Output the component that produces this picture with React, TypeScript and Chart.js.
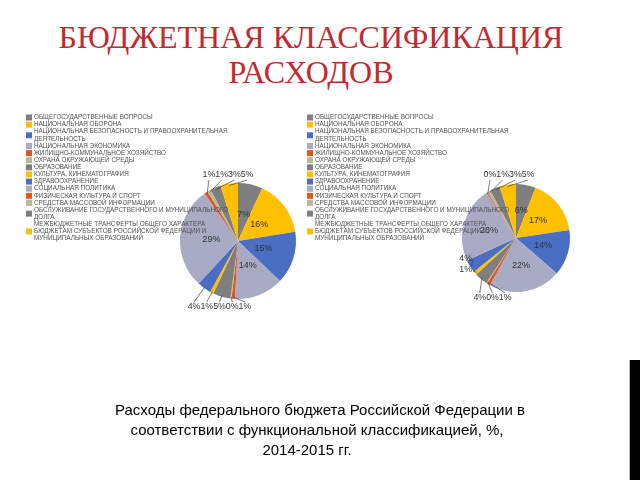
import React, { useEffect, useRef } from "react";
import { Chart, registerables } from "chart.js";

Chart.register(...registerables);

// ---- data ----
const categories: string[] = [
  "ОБЩЕГОСУДАРСТВЕННЫЕ ВОПРОСЫ",
  "НАЦИОНАЛЬНАЯ ОБОРОНА",
  "НАЦИОНАЛЬНАЯ БЕЗОПАСНОСТЬ И ПРАВООХРАНИТЕЛЬНАЯ\nДЕЯТЕЛЬНОСТЬ",
  "НАЦИОНАЛЬНАЯ ЭКОНОМИКА",
  "ЖИЛИЩНО-КОММУНАЛЬНОЕ ХОЗЯЙСТВО",
  "ОХРАНА ОКРУЖАЮЩЕЙ СРЕДЫ",
  "ОБРАЗОВАНИЕ",
  "КУЛЬТУРА, КИНЕМАТОГРАФИЯ",
  "ЗДРАВООХРАНЕНИЕ",
  "СОЦИАЛЬНАЯ ПОЛИТИКА",
  "ФИЗИЧЕСКАЯ КУЛЬТУРА И СПОРТ",
  "СРЕДСТВА МАССОВОЙ ИНФОРМАЦИИ",
  "ОБСЛУЖИВАНИЕ ГОСУДАРСТВЕННОГО И МУНИЦИПАЛЬНОГО\nДОЛГА",
  "МЕЖБЮДЖЕТНЫЕ ТРАНСФЕРТЫ ОБЩЕГО ХАРАКТЕРА\nБЮДЖЕТАМ СУБЪЕКТОВ РОССИЙСКОЙ ФЕДЕРАЦИИ И\nМУНИЦИПАЛЬНЫХ ОБРАЗОВАНИЙ",
];

const values2014: number[] = [7, 16, 15, 14, 1, 0.3, 5, 1, 4, 29, 1, 1, 3, 5];
const values2015: number[] = [6, 17, 14, 22, 1, 0.3, 4, 1, 4, 23, 0.4, 1, 3, 5];

const palette: string[] = ["#7F7F7F", "#FFC000", "#4A6EC2", "#A9AAC4", "#E2561F", "#BAB898"];
const sliceColors: string[] = categories.map((_, i) => palette[i % palette.length]);

const titleText = ["БЮДЖЕТНАЯ КЛАССИФИКАЦИЯ", "РАСХОДОВ"];
const captionLines = [
  "Расходы федерального бюджета Российской Федерации в",
  "соответствии с функциональной классификацией, %,",
  "2014-2015 гг.",
];

// ---- plugin: labels, leader lines, legend ----
const decorPlugin = {
  id: "decor",
  afterDatasetsDraw(chart: any, _args: any, opts: any) {
    const ctx: CanvasRenderingContext2D = chart.ctx;
    const meta = chart.getDatasetMeta(0);
    const data = chart.data.datasets[0].data as number[];
    const labels = chart.data.labels as string[];
    const cols = chart.data.datasets[0].backgroundColor as string[];
    const arcs = meta.data as any[];
    if (!arcs.length) return;
    const cx = arcs[0].x;
    const cy = arcs[0].y;
    const R = arcs[0].outerRadius;
    const pct = (v: number) => `${Math.round(v)}%`;
    const mid = (a: any) => (a.startAngle + a.endAngle) / 2;

    ctx.save();
    // inside labels
    ctx.font = opts.inFont;
    ctx.fillStyle = opts.textColor;
    ctx.textAlign = "center";
    ctx.textBaseline = "middle";
    arcs.forEach((arc, i) => {
      if (data[i] < opts.insideMin) return;
      const m = mid(arc);
      ctx.fillText(pct(data[i]), cx + Math.cos(m) * R * opts.inR, cy + Math.sin(m) * R * opts.inR);
    });

    // outside labels with leader lines
    ctx.font = opts.outFont;
    ctx.strokeStyle = opts.lineColor;
    ctx.lineWidth = 0.7;
    opts.groups.forEach((g: any) => {
      if (g.dir === "left") {
        g.indices.forEach((idx: number, k: number) => {
          const t = pct(data[idx]);
          const lx = cx + g.dx;
          const ly = cy + g.dy + k * g.step;
          const m = mid(arcs[idx]);
          ctx.beginPath();
          ctx.moveTo(cx + Math.cos(m) * R * 0.97, cy + Math.sin(m) * R * 0.97);
          ctx.lineTo(lx + 1, ly + 1);
          ctx.stroke();
          ctx.textAlign = "right";
          ctx.fillText(t, lx, ly);
        });
      } else {
        const texts = g.indices.map((i: number) => pct(data[i]));
        const widths = texts.map((t: string) => ctx.measureText(t).width);
        const total = widths.reduce((a: number, b: number) => a + b, 0);
        let x = cx + g.dx - total / 2;
        const y = cy + g.dy;
        texts.forEach((t: string, k: number) => {
          const idx = g.indices[k];
          const m = mid(arcs[idx]);
          const ax = x + widths[k] / 2;
          const ay = g.dir === "top" ? y + 5 : y - 5;
          ctx.beginPath();
          ctx.moveTo(cx + Math.cos(m) * R * 0.97, cy + Math.sin(m) * R * 0.97);
          ctx.lineTo(ax, ay);
          ctx.stroke();
          ctx.textAlign = "left";
          ctx.fillText(t, x, y);
          x += widths[k];
        });
      }
    });

    // legend
    const lg = opts.legend;
    ctx.font = `10px "Liberation Sans", Arial, sans-serif`;
    const refW = ctx.measureText(labels[2].split("\n")[0]).width;
    const fs = (10 * lg.refWidth) / refW;
    ctx.font = `${fs.toFixed(2)}px "Liberation Sans", Arial, sans-serif`;
    ctx.textAlign = "left";
    ctx.textBaseline = "middle";
    let line = 0;
    labels.forEach((lab, i) => {
      const parts = lab.split("\n");
      const centerY = lg.y + (line + (parts.length - 1) / 2) * lg.lineH;
      ctx.fillStyle = cols[i];
      ctx.fillRect(lg.x, centerY - lg.box / 2, lg.box, lg.box);
      ctx.fillStyle = lg.color;
      parts.forEach((p, k) => {
        ctx.fillText(p, lg.x + lg.textGap, lg.y + (line + k) * lg.lineH);
      });
      line += parts.length;
    });
    ctx.restore();
  },
};

type PieCfg = {
  values: number[];
  padding: { left: number; right: number; top: number; bottom: number };
  groups: any[];
  legendX: number;
  inR: number;
};

function PieChart({ cfg }: { cfg: PieCfg }) {
  const ref = useRef<HTMLCanvasElement | null>(null);
  useEffect(() => {
    if (!ref.current) return;
    const chart = new Chart(ref.current, {
      type: "pie",
      data: {
        labels: categories,
        datasets: [
          {
            data: cfg.values,
            backgroundColor: sliceColors,
            borderWidth: 0,
          },
        ],
      },
      options: {
        responsive: false,
        maintainAspectRatio: false,
        animation: false,
        layout: { padding: cfg.padding },
        plugins: {
          legend: { display: false },
          tooltip: { enabled: false },
          decor: {
            inFont: `9px "Liberation Sans", Arial, sans-serif`,
            outFont: `8.8px "Liberation Sans", Arial, sans-serif`,
            textColor: "#333333",
            lineColor: "#404040",
            insideMin: 6,
            inR: cfg.inR,
            groups: cfg.groups,
            legend: {
              x: cfg.legendX,
              y: 117.5,
              lineH: 7.12,
              box: 6,
              textGap: 8,
              refWidth: 194,
              color: "#505050",
            },
          },
        } as any,
      },
      plugins: [decorPlugin],
    });
    return () => chart.destroy();
  }, [cfg]);
  return (
    <canvas
      ref={ref}
      width={640}
      height={480}
      style={{ position: "absolute", left: 0, top: 0, width: 640, height: 480 }}
    />
  );
}

const leftCfg: PieCfg = {
  values: values2014,
  padding: { left: 180, right: 344, top: 183, bottom: 181 },
  groups: [
    { dir: "top", indices: [10, 11, 12, 13], dx: -10, dy: -66 },
    { dir: "bottom", indices: [8, 7, 6, 5, 4], dx: -18.5, dy: 66 },
  ],
  legendX: 26,
  inR: 0.46,
};

const rightCfg: PieCfg = {
  values: values2015,
  padding: { left: 462, right: 70, top: 184, bottom: 188 },
  groups: [
    { dir: "top", indices: [10, 11, 12, 13], dx: -7, dy: -63 },
    { dir: "bottom", indices: [6, 5, 4], dx: -23.5, dy: 60 },
    { dir: "left", indices: [8, 7], dx: -44, dy: 21, step: 11 },
  ],
  legendX: 307,
  inR: 0.52,
};

export default function App() {
  return (
    <div
      style={{
        position: "absolute",
        left: 0,
        top: 0,
        width: 640,
        height: 480,
        background: "#ffffff",
        overflow: "hidden",
      }}
    >
      <div
        style={{
          position: "absolute",
          left: 0,
          top: 20,
          width: 622,
          textAlign: "center",
          fontFamily: '"Liberation Serif", "Times New Roman", serif',
          fontSize: 32,
          lineHeight: "35px",
          color: "#C5282F",
        }}
      >
        {titleText[0]}
        <br />
        {titleText[1]}
      </div>
      <PieChart cfg={leftCfg} />
      <PieChart cfg={rightCfg} />
      <div
        style={{
          position: "absolute",
          left: 0,
          top: 400,
          width: 640,
          textAlign: "center",
          fontFamily: '"Liberation Sans", Arial, sans-serif',
          fontSize: 15,
          lineHeight: "20px",
          color: "#000",
        }}
      >
        <div>{captionLines[0]}</div>
        <div style={{ paddingRight: 6 }}>{captionLines[1]}</div>
        <div style={{ paddingRight: 26 }}>{captionLines[2]}</div>
      </div>
      <div
        style={{
          position: "absolute",
          left: 629,
          top: 360,
          width: 1,
          height: 120,
          background: "#bdbdbd",
        }}
      />
      <div
        style={{
          position: "absolute",
          left: 630,
          top: 360,
          width: 10,
          height: 120,
          background: "#000",
        }}
      />
    </div>
  );
}
